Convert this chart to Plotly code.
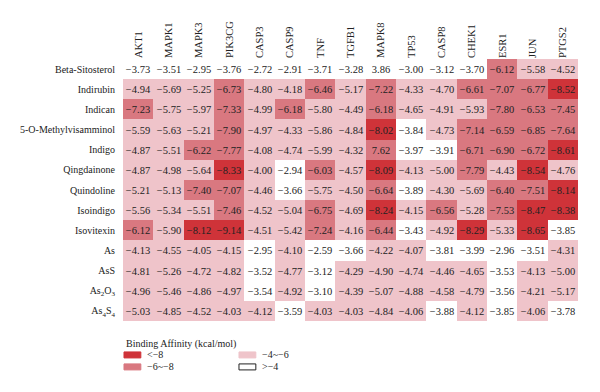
import plotly.graph_objects as go

targets = ["AKT1", "MAPK1", "MAPK3", "PIK3CG", "CASP3", "CASP9", "TNF", "TGFB1",
           "MAPK8", "TP53", "CASP8", "CHEK1", "ESR1", "JUN", "PTGS2"]
compounds = ["Beta-Sitosterol", "Indirubin", "Indican", "5-O-Methylvisamminol", "Indigo",
             "Qingdainone", "Quindoline", "Isoindigo", "Isovitexin", "As", "AsS",
             "As<sub>2</sub>O<sub>3</sub>", "As<sub>4</sub>S<sub>4</sub>"]

beta_sitosterol = [-3.73, -3.51, -2.95, -3.76, -2.72, -2.91, -3.71, -3.28, 3.86, -3.00, -3.12, -3.70, -6.12, -5.58, -4.52]
indirubin = [-4.94, -5.69, -5.25, -6.73, -4.80, -4.18, -6.46, -5.17, -7.22, -4.33, -4.70, -6.61, -7.07, -6.77, -8.52]
indican = [-7.23, -5.75, -5.97, -7.33, -4.99, -6.18, -5.80, -4.49, -6.18, -4.65, -4.91, -5.93, -7.80, -6.53, -7.45]
methylvisamminol = [-5.59, -5.63, -5.21, -7.90, -4.97, -4.33, -5.86, -4.84, -8.02, -3.84, -4.73, -7.14, -6.59, -6.85, -7.64]
indigo = [-4.87, -5.51, -6.22, -7.77, -4.08, -4.74, -5.99, -4.32, 7.62, -3.97, -3.91, -6.71, -6.90, -6.72, -8.61]
qingdainone = [-4.87, -4.98, -5.64, -8.33, -4.00, -2.94, -6.03, -4.57, -8.09, -4.13, -5.00, -7.79, -4.43, -8.54, -4.76]
quindoline = [-5.21, -5.13, -7.40, -7.07, -4.46, -3.66, -5.75, -4.50, -6.64, -3.89, -4.30, -5.69, -6.40, -7.51, -8.14]
isoindigo = [-5.56, -5.34, -5.51, -7.46, -4.52, -5.04, -6.75, -4.69, -8.24, -4.15, -6.56, -5.28, -7.53, -8.47, -8.38]
isovitexin = [-6.12, -5.90, -8.12, -9.14, -4.51, -5.42, -7.24, -4.16, -6.44, -3.43, -4.92, -8.29, -5.33, -8.65, -3.85]
arsenic = [-4.13, -4.55, -4.05, -4.15, -2.95, -4.10, -2.59, -3.66, -4.22, -4.07, -3.81, -3.99, -2.96, -3.51, -4.31]
ass = [-4.81, -5.26, -4.72, -4.82, -3.52, -4.77, -3.12, -4.29, -4.90, -4.74, -4.46, -4.65, -3.53, -4.13, -5.00]
as2o3 = [-4.96, -5.46, -4.86, -4.97, -3.54, -4.92, -3.10, -4.39, -5.07, -4.88, -4.58, -4.79, -3.56, -4.21, -5.17]
as4s4 = [-5.03, -4.85, -4.52, -4.03, -4.12, -3.59, -4.03, -4.03, -4.84, -4.06, -3.88, -4.12, -3.85, -4.06, -3.78]

values = [beta_sitosterol, indirubin, indican, methylvisamminol, indigo, qingdainone,
          quindoline, isoindigo, isovitexin, arsenic, ass, as2o3, as4s4]

legend_labels = ["<−8", "−6~−8", "−4~−6", ">−4"]
COLORS = ["#cf3339", "#d97880", "#efc4ca", "#ffffff"]


def category(v):
    a = -abs(v)
    if a < -8:
        return 0
    if a < -6:
        return 1
    if a <= -4:
        return 2
    return 3


z = [[category(v) for v in row] for row in values]
text = [[f"{v:.2f}".replace("-", "−") for v in row] for row in values]

colorscale = []
for i, c in enumerate(COLORS):
    colorscale.append([i / 4, c])
    colorscale.append([(i + 1) / 4, c])

FONT = "Liberation Serif"
TXT = "#222222"

fig = go.Figure(go.Heatmap(
    z=z, x=targets, y=compounds, text=text, texttemplate="%{text}",
    textfont=dict(family=FONT, size=10.5, color=TXT),
    colorscale=colorscale, zmin=0, zmax=4, showscale=False, hoverinfo="skip",
    xgap=0, ygap=0,
))

# page offset (browser body margin)
OFF = 8
W, H = 600, 392
L, R, T, B = 119 - OFF, 578 - OFF, 58.5 - OFF, 321 - OFF


def px(x):
    return (x - OFF - L) / (R - L)


def py(y):
    return (B - (y - OFF)) / (B - T)


shapes = []
annotations = [dict(text="Binding Affinity (kcal/mol)", x=px(120), y=py(344), xref="paper", yref="paper",
                    xanchor="left", yanchor="middle", showarrow=False,
                    font=dict(family=FONT, size=10, color=TXT))]
legend_pos = [(120, 355), (120, 367), (236, 355), (236, 367)]
for (lx, ly), lab, col in zip(legend_pos, legend_labels, COLORS):
    shapes.append(dict(type="rect", xref="paper", yref="paper",
                       x0=px(lx), x1=px(lx + 17), y0=py(ly - 3), y1=py(ly + 3),
                       fillcolor=col,
                       line=dict(color=TXT if col == "#ffffff" else col, width=1)))
    annotations.append(dict(text=lab, x=px(lx + 21), y=py(ly), xref="paper", yref="paper",
                            xanchor="left", yanchor="middle", showarrow=False,
                            font=dict(family=FONT, size=10, color=TXT)))

fig.update_layout(
    width=W, height=H,
    margin=dict(l=L, r=W - R, t=T, b=H - B),
    plot_bgcolor="white", paper_bgcolor="white",
    font=dict(family=FONT, color=TXT),
    xaxis=dict(side="top", tickangle=-90, showgrid=False, zeroline=False, showline=False,
               ticks="", tickfont=dict(family=FONT, size=10.5, color=TXT), fixedrange=True),
    yaxis=dict(autorange="reversed", showgrid=False, zeroline=False, showline=False,
               ticks="outside", ticklen=5, tickcolor="rgba(0,0,0,0)",
               tickfont=dict(family=FONT, size=10, color=TXT), fixedrange=True),
    shapes=shapes, annotations=annotations,
)

fig.write_html("out.html")
